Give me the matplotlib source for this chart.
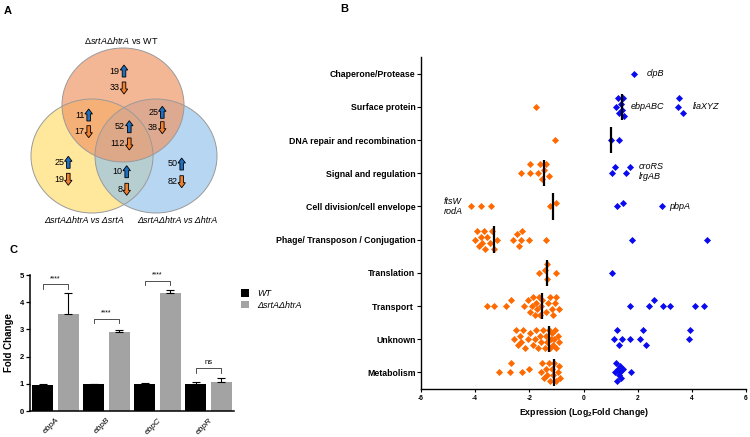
import numpy as np
import matplotlib
matplotlib.use('Agg')
import matplotlib.pyplot as plt
from matplotlib.patches import Ellipse, FancyArrow

plt.rcParams['font.family'] = ['Liberation Sans', 'DejaVu Sans']
plt.rcParams['mathtext.fontset'] = 'custom'
plt.rcParams['mathtext.rm'] = 'Liberation Sans'
plt.rcParams['mathtext.it'] = 'Liberation Sans:italic'
plt.rcParams['mathtext.bf'] = 'Liberation Sans:bold'

# ---------------- Panel A data ----------------
venn_up = [19, 11, 52, 25, 25, 10, 50]
venn_down = [33, 17, 112, 38, 19, 8, 82]
venn_titles = [r"$\mathit{\Delta srtA\Delta htrA}$ vs WT",
               "ΔsrtAΔhtrA vs ΔsrtA",
               "ΔsrtAΔhtrA vs ΔhtrA"]

# ---------------- Panel B data ----------------
categories = ['Metabolism', 'Unknown', 'Transport ', 'Translation',
              'Phage/ Transposon / Conjugation', 'Cell division/cell envelope',
              'Signal and regulation', 'DNA repair and recombination',
              'Surface protein', 'Chaperone/Protease']
down_metabolism = [-3.12, -2.72, -2.66, -2.26, -2.02, -1.58, -1.52, -1.46, -1.40, -1.34,
                   -1.28, -1.22, -1.17, -1.13, -1.10, -1.02, -0.96, -0.90, -0.85]
up_metabolism = [1.15, 1.20, 1.24, 1.27, 1.30, 1.33, 1.36, 1.40, 1.45, 1.75]
down_unknown = [-2.55, -2.48, -2.42, -2.35, -2.30, -2.22, -2.15, -2.05, -1.98,
                -1.88, -1.80, -1.74, -1.68, -1.62, -1.56, -1.50, -1.44, -1.38, -1.33,
                -1.28, -1.24, -1.20, -1.16, -1.12, -1.08, -1.04, -1.00, -0.96, -0.92]
up_unknown = [1.12, 1.22, 1.32, 1.43, 1.71, 2.08, 2.18, 2.29, 3.89, 3.95]
down_transport = [-3.58, -3.31, -2.88, -2.69, -2.18, -2.05, -1.98, -1.92, -1.85, -1.80,
                  -1.75, -1.70, -1.66, -1.62, -1.58, -1.55, -1.40, -1.32, -1.25, -1.18,
                  -1.12, -1.06, -1.00, -0.92]
up_transport = [1.73, 2.41, 2.62, 2.94, 3.21, 4.10, 4.46]
down_translation = [-1.65, -1.42, -1.36, -1.34, -1.00]
up_translation = [1.06]
down_phage = [-3.99, -3.92, -3.86, -3.80, -3.74, -3.68, -3.62, -3.55, -3.47, -3.38, -3.31,
              -3.21, -2.59, -2.45, -2.40, -2.32, -2.28, -2.02, -1.40]
up_phage = [1.80, 4.56]
down_celldiv = [-4.14, -3.78, -3.41, -1.25, -1.03]
up_celldiv = [1.22, 1.46, 2.88]
down_signal = [-2.32, -1.98, -1.96, -1.69, -1.59, -1.52, -1.46, -1.40, -1.28]
up_signal = [1.04, 1.16, 1.58, 1.72]
down_dna = [-1.06]
up_dna = [1.02, 1.30]
down_surface = [-1.77]
up_surface = [1.20, 1.26, 1.32, 1.38, 1.41, 1.44, 1.48, 3.48, 3.53, 3.68]
down_chaperone = []
up_chaperone = [1.88]

down_values = [down_metabolism, down_unknown, down_transport, down_translation, down_phage,
               down_celldiv, down_signal, down_dna, down_surface, down_chaperone]
up_values = [up_metabolism, up_unknown, up_transport, up_translation, up_phage,
             up_celldiv, up_signal, up_dna, up_surface, up_chaperone]

gene_labels = ['clpB', 'ebpABC', 'liaXYZ', 'croRS', 'lrgAB', 'pbpA', 'ftsW', 'rodA']
gene_label_pos = [(2.33, 9.0), (1.76, 8.0), (4.02, 8.0), (2.03, 6.2), (2.03, 5.9),
                  (3.16, 5.0), (-5.16, 5.16), (-5.16, 4.86)]

# ---------------- Panel C data ----------------
genes = ['ebpA', 'ebpB', 'ebpC', 'ebpR']
groups = ['WT', 'ΔsrtAΔhtrA']
wt_fold = [0.95, 1.00, 1.00, 1.00]
wt_err = [0.05, 0.01, 0.02, 0.05]
mut_fold = [3.56, 2.92, 4.33, 1.08]
mut_err = [0.76, 0.04, 0.12, 0.12]
sig_labels = ['****', '****', '****', 'ns']
sig_heights = [4.66, 3.40, 4.79, 1.57]

W, H = 750, 437
fig = plt.figure(figsize=(7.5, 4.37), dpi=100)

# ================= Panel A =================
axA = fig.add_axes([0, 1 - 235 / H, 260 / W, 235 / H])
axA.set_xlim(0, 260)
axA.set_ylim(235, 0)
axA.axis('off')
circles = [((123, 105), '#F09664'), ((92, 156), '#FFDC6E'), ((156, 156), '#96C3EB')]
for (c, col) in [circles[1], circles[2], circles[0]]:
    axA.add_patch(Ellipse(c, 122, 114, facecolor=col, alpha=0.68, edgecolor='none'))
for (c, col) in circles:
    axA.add_patch(Ellipse(c, 122, 114, facecolor='none', edgecolor='#9a9a9a', lw=0.7))

arrow_pos = [(124, 71, 88), (88.7, 115, 131.7), (129.3, 126.7, 144),
             (162.3, 112.3, 127.7), (68.3, 162.3, 179.3), (126.7, 171.7, 189.3),
             (181.7, 164, 181.7)]
for (xa, yu, yd), nu, nd in zip(arrow_pos, venn_up, venn_down):
    axA.add_patch(FancyArrow(xa, yu + 6, 0, -12, width=3.6, head_width=7.5, head_length=5,
                             length_includes_head=True, facecolor='#1F6FC0',
                             edgecolor='black', lw=0.6))
    axA.add_patch(FancyArrow(xa, yd - 6, 0, 12, width=3.6, head_width=7.5, head_length=5,
                             length_includes_head=True, facecolor='#F07F2E',
                             edgecolor='black', lw=0.6))
    axA.text(xa - 4.2, yu, str(nu), ha='right', va='center', fontsize=6.5)
    axA.text(xa - 4.2, yd, str(nd), ha='right', va='center', fontsize=6.5)

axA.text(121, 40.5, venn_titles[0], ha='center', va='center', fontsize=6.5)
axA.text(83.7, 220, venn_titles[1], ha='center', va='center', fontsize=6.5, style='italic')
axA.text(177, 220, venn_titles[2], ha='center', va='center', fontsize=6.5, style='italic')

fig.text(8 / W, 1 - 11 / H, 'A', fontsize=8, fontweight='bold', ha='center', va='center')
fig.text(344 / W, 1 - 9 / H, 'B', fontsize=8, fontweight='bold', ha='center', va='center')
fig.text(13 / W, 1 - 250 / H, 'C', fontsize=8, fontweight='bold', ha='center', va='center')

# ================= Panel B =================
axB = fig.add_axes([421 / W, 1 - 389 / H, 325 / W, 332 / H])
axB.set_xlim(-6, 6)
axB.set_ylim(-0.5, 9.5)
xs_px = 325 / 12.0
ys_px = 332 / 10.0


def swarm(vals, diam=6.6, step=3.0, maxw=10.5):
    vals = np.asarray(vals, dtype=float)
    offs = np.zeros(len(vals))
    placed = []
    cands = [0.0]
    k = 1
    while k * step <= maxw:
        cands += [k * step, -k * step]
        k += 1
    for i in np.argsort(vals):
        xp = vals[i] * xs_px
        best, bestd = 0.0, -1
        for c in cands:
            d = min([np.hypot(xp - px, c - py) for px, py in placed] + [1e9])
            if d >= diam:
                best = c
                break
            if d > bestd + 0.5:
                best, bestd = c, d
        offs[i] = best
        placed.append((xp, best))
    return offs / ys_px


for i, (dv, uv) in enumerate(zip(down_values, up_values)):
    allv = list(dv) + list(uv)
    offs = swarm(allv)
    nd = len(dv)
    if nd:
        axB.scatter(dv, i + offs[:nd], marker='D', s=13, color='#FF6A00', linewidths=0,
                    zorder=3)
    if len(uv):
        axB.scatter(uv, i + offs[nd:], marker='D', s=13, color='#0A0AF0', linewidths=0,
                    zorder=3)
    if len(allv) > 1:
        med = np.median(allv)
        axB.plot([med, med], [i - 0.4, i + 0.4], color='black', lw=1.6, zorder=4,
                 solid_capstyle='butt')

for lab, (x, y) in zip(gene_labels, gene_label_pos):
    axB.text(x, y, lab, fontsize=6.5, style='italic', ha='left', va='center')

axB.spines['top'].set_visible(False)
axB.spines['right'].set_visible(False)
for s in ['left', 'bottom']:
    axB.spines[s].set_linewidth(1.0)
axB.set_yticks(range(len(categories)))
axB.set_yticklabels(categories, fontsize=6.3, fontweight='bold')
axB.set_xticks([-6, -4, -2, 0, 2, 4, 6])
axB.set_xticklabels(['-6', '-4', '-2', '0', '2', '4', '6'], fontsize=4.8, fontweight='bold')
axB.tick_params(axis='y', length=3, width=0.8, pad=1)
axB.tick_params(axis='x', length=2.5, width=0.8, pad=2)
axB.set_xlabel(r'Expression (Log$_\mathbf{2}$Fold Change)', fontsize=6.3, fontweight='bold',
               labelpad=3)

# ================= Panel C =================
axC = fig.add_axes([30 / W, 1 - 411 / H, 204 / W, 136 / H])
x = np.arange(len(genes))
bw = 0.41
axC.bar(x - 0.25, wt_fold, bw, color='black', label=groups[0], zorder=2)
axC.bar(x + 0.25, mut_fold, bw, color='#A3A3A3', label=groups[1], zorder=2)
axC.errorbar(x - 0.25, wt_fold, yerr=[np.zeros(len(genes)), wt_err], fmt='none',
             ecolor='black', elinewidth=0.8, capsize=3.2, capthick=0.8, zorder=3)
axC.errorbar(x + 0.25, mut_fold, yerr=[np.zeros(len(genes)), mut_err], fmt='none',
             ecolor='black', elinewidth=0.8, capsize=3.2, capthick=0.8, zorder=3)
for xi, lab, h in zip(x, sig_labels, sig_heights):
    axC.plot([xi - 0.25, xi - 0.25, xi + 0.25, xi + 0.25], [h - 0.17, h, h, h - 0.17],
             color='#333333', lw=0.6)
    axC.text(xi, h + 0.07, lab, ha='center', va='bottom', fontsize=5 if lab != 'ns' else 5.5)
axC.set_xlim(-0.5, 3.5)
axC.set_ylim(0, 5)
axC.set_yticks(range(6))
axC.set_yticklabels([str(v) for v in range(6)], fontsize=5.5, fontweight='bold')
axC.set_xticks(x)
axC.set_xticklabels(genes, rotation=45, ha='right', rotation_mode='anchor', fontsize=6,
                    style='italic')
axC.tick_params(axis='x', length=0, pad=4)
axC.tick_params(axis='y', length=3, width=0.9, pad=1.5)
axC.spines['top'].set_visible(False)
axC.spines['right'].set_visible(False)
for s in ['left', 'bottom']:
    axC.spines[s].set_linewidth(1.1)
axC.set_ylabel('Fold Change', fontsize=7, fontweight='bold', labelpad=4)
axC.legend(loc='upper left', bbox_to_anchor=(241 / W, 1 - 289 / H),
           bbox_transform=fig.transFigure, frameon=False, handlelength=0.9,
           handleheight=0.9, handletextpad=0.9, labelspacing=0.3, borderaxespad=0,
           borderpad=0, prop={'size': 6.5, 'style': 'italic'})

fig.savefig('out.png', dpi=100)
